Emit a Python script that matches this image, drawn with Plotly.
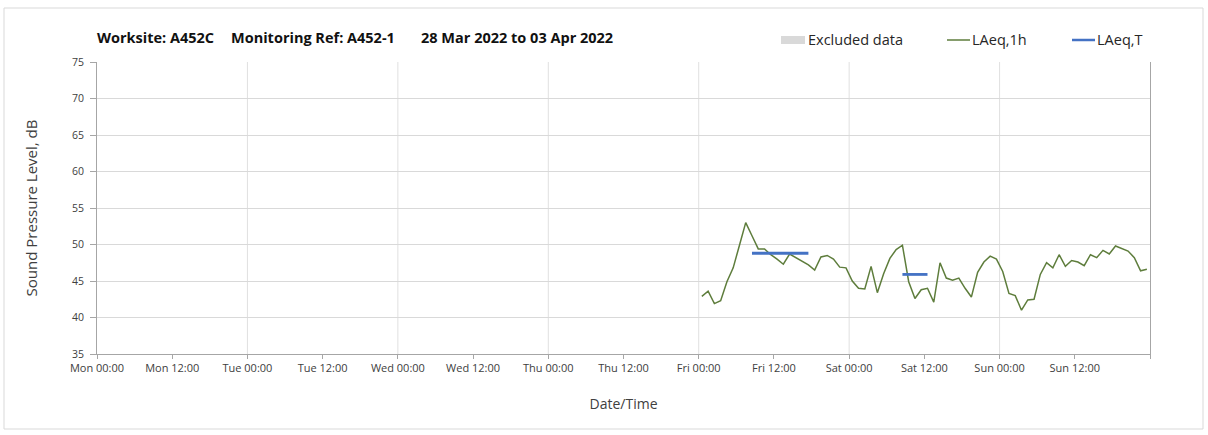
import pandas as pd
import plotly.graph_objects as go

# ---------------- data ----------------
title_parts = ["Worksite: A452C", "Monitoring Ref: A452-1", "28 Mar 2022 to 03 Apr 2022"]
week_start = "2022-03-28 00:00"
week_end = "2022-04-04 00:00"

tick_labels = ["Mon 00:00", "Mon 12:00", "Tue 00:00", "Tue 12:00", "Wed 00:00", "Wed 12:00",
               "Thu 00:00", "Thu 12:00", "Fri 00:00", "Fri 12:00", "Sat 00:00", "Sat 12:00",
               "Sun 00:00", "Sun 12:00", ""]

# hourly LAeq,1h from Fri 01 Apr 00:00 (plotted at mid-hour)
laeq_1h_start = "2022-04-01 00:30"
laeq_1h = [42.9, 43.6, 41.9, 42.3, 44.9, 46.8, 49.9, 53.0, 51.2, 49.4, 49.4, 48.6,
           48.0, 47.3, 48.7, 48.2, 47.8, 47.2, 46.5, 48.3, 48.5, 48.0, 46.9, 46.8,
           45.0, 44.0, 43.9, 47.0, 43.4, 46.0, 48.1, 49.3, 49.9, 44.9, 42.6, 43.8,
           44.0, 42.1, 47.5, 45.4, 45.1, 45.4, 44.0, 42.8, 46.2, 47.6, 48.4, 48.0,
           46.3, 43.3, 43.0, 41.0, 42.4, 42.5, 45.9, 47.5, 46.8, 48.6, 47.0, 47.8,
           47.6, 47.1, 48.6, 48.2, 49.2, 48.7, 49.8, 49.5, 49.1, 48.2, 46.4, 46.6]

laeq_t_start = ["2022-04-01 08:30", "2022-04-02 08:30"]
laeq_t_end = ["2022-04-01 17:30", "2022-04-02 12:30"]
laeq_t_value = [48.8, 45.9]

y_ticks = [35, 40, 45, 50, 55, 60, 65, 70, 75]

series_names = ["Excluded data", "LAeq,1h", "LAeq,T"]

# ---------------- build ----------------
FONT = "Open Sans"
GREEN = "#5E7D3C"
BLUE = "#4472C4"
GREY = "#D9D9D9"

W, H = 1208, 435
L, R, T, B = 97, 58, 62, 81
pw, ph = W - L - R, H - T - B
def px(xp): return (xp - L) / pw
def py(yp): return (H - B - yp) / ph

x_1h = pd.date_range(laeq_1h_start, periods=len(laeq_1h), freq="h")
tick_vals = pd.date_range(week_start, week_end, freq="12h")
day_vals = pd.date_range(week_start, week_end, freq="24h")

tx, ty = [], []
for s, e, v in zip(laeq_t_start, laeq_t_end, laeq_t_value):
    tx += [s, e, None]
    ty += [v, v, None]

fig = go.Figure()
fig.add_trace(go.Scatter(x=[None], y=[None], name=series_names[0], mode="lines",
                         line=dict(width=0, color=GREY), showlegend=False))
fig.add_trace(go.Scatter(x=x_1h, y=laeq_1h, name=series_names[1], mode="lines",
                         line=dict(color=GREEN, width=1.5), showlegend=False))
fig.add_trace(go.Scatter(x=tx, y=ty, name=series_names[2], mode="lines",
                         line=dict(color=BLUE, width=2.8), showlegend=False))

shapes = []
for d in day_vals[1:-1]:
    shapes.append(dict(type="line", xref="x", yref="paper", x0=d, x1=d, y0=0, y1=1,
                       line=dict(color="#E0E0E0", width=1), layer="below"))
# outer chart frame
shapes.append(dict(type="rect", xref="paper", yref="paper", x0=px(4), x1=px(1203), y0=py(429), y1=py(8),
                   line=dict(color="#D9D9D9", width=1), fillcolor="rgba(0,0,0,0)", layer="below"))

# manual legend (symbols + labels)
leg_y = 40
shapes.append(dict(type="rect", xref="paper", yref="paper", x0=px(781), x1=px(805),
                   y0=py(leg_y + 4), y1=py(leg_y - 4), line=dict(width=0), fillcolor=GREY))
shapes.append(dict(type="line", xref="paper", yref="paper", x0=px(947), x1=px(970),
                   y0=py(leg_y), y1=py(leg_y), line=dict(color=GREEN, width=1.5)))
shapes.append(dict(type="line", xref="paper", yref="paper", x0=px(1072), x1=px(1095),
                   y0=py(leg_y), y1=py(leg_y), line=dict(color=BLUE, width=2.5)))
annotations = []
for name, xpos in zip(series_names, [806, 970, 1095]):
    annotations.append(dict(text=name, xref="paper", yref="paper", x=px(xpos), y=py(leg_y),
                            xanchor="left", yanchor="middle", showarrow=False,
                            font=dict(family=FONT, size=14.5, color="#262626")))
# title
title_x = [95, 229, 419]
for part, xpos in zip(title_parts, title_x):
    annotations.append(dict(text="<b>" + part + "</b>", xref="paper", yref="paper", x=px(xpos), y=py(38),
                            xanchor="left", yanchor="middle", showarrow=False,
                            font=dict(family=FONT, size=14.5, color="#111111")))

fig.update_layout(
    width=W, height=H,
    margin=dict(l=L, r=R, t=T, b=B),
    paper_bgcolor="white", plot_bgcolor="white",
    font=dict(family=FONT, size=12, color="#404040"),
    showlegend=False,
    shapes=shapes,
    annotations=annotations,
    xaxis=dict(type="date", range=[week_start, week_end], tickmode="array",
               tickvals=tick_vals, ticktext=tick_labels, showgrid=False,
               showline=True, linecolor="#A6A6A6", linewidth=1,
               ticks="outside", ticklen=4, tickcolor="#A6A6A6",
               tickfont=dict(family=FONT, size=11, color="#404040"),
               title=dict(text="Date/Time", font=dict(family=FONT, size=14, color="#404040"), standoff=24),
               zeroline=False),
    yaxis=dict(range=[35, 75], tickmode="array", tickvals=y_ticks,
               showgrid=True, gridcolor="#D9D9D9", gridwidth=1,
               showline=True, linecolor="#A6A6A6", linewidth=1, mirror=True,
               ticks="outside", ticklen=6, tickcolor="#A6A6A6", ticklabelstandoff=4,
               tickfont=dict(family=FONT, size=10.5, color="#404040"),
               title=dict(text="Sound Pressure Level, dB", font=dict(family=FONT, size=15, color="#404040"), standoff=30),
               zeroline=False),
)

fig.write_html("out.html", config={"displayModeBar": False},
               post_script="document.body.style.margin='0';")
